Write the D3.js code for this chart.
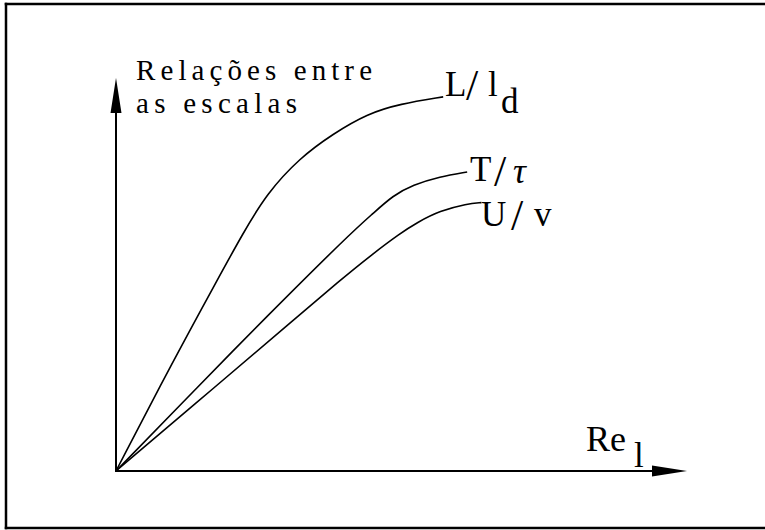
<!DOCTYPE html>
<html>
<head>
<meta charset="utf-8">
<script src="https://cdn.jsdelivr.net/npm/d3@7"></script>
<style>
  html, body { margin: 0; padding: 0; background: #fff; overflow: hidden; }
  svg { display: block; }
</style>
</head>
<body>
<script>
// Qualitative curves: ratios between scales as Re_l grows (arbitrary units 0-100)
const curveNames = ["L/ld", "T/tau", "U/v"];

const lengthX = [0, 10.0, 17.7, 22.2, 26.4, 32.2, 38.0, 44.0, 49.7, 57.3];
const lengthY = [0, 28.0, 48.5, 60.4, 70.6, 79.7, 85.8, 90.9, 93.4, 95.2];

const timeX = [0, 15.0, 25.7, 41.0, 45.0, 48.5, 52.0, 56.7, 61.5];
const timeY = [0, 22.4, 38.3, 60.4, 65.5, 70.1, 72.8, 74.9, 76.1];

const velX = [0, 18.0, 31.0, 39.2, 45.0, 49.7, 52.7, 56.7, 61.5, 64.0];
const velY = [0, 22.2, 38.3, 48.5, 55.3, 60.4, 63.2, 66.2, 68.0, 68.3];

const yTitle = ["Relações entre", "as escalas"];

const FONT = "'Liberation Serif', 'Times New Roman', 'DejaVu Serif', serif";
const W = 765, H = 530;
const svg = d3.select("body").append("svg").attr("width", W).attr("height", H);

// frame: top, left and bottom edges (the right edge runs past the page)
const frame = [[6, 4, W, 4], [6, 4, 6, 528], [6, 528, W, 528]];
svg.selectAll("line.frame").data(frame).join("line")
  .attr("class", "frame")
  .attr("x1", d => d[0]).attr("y1", d => d[1])
  .attr("x2", d => d[2]).attr("y2", d => d[3])
  .attr("stroke", "#000").attr("stroke-width", 2.5).attr("stroke-linecap", "square");

const x = d3.scaleLinear().domain([0, 100]).range([116, 687]);
const y = d3.scaleLinear().domain([0, 100]).range([471, 78]);

// axes with filled arrowheads
const head = 35, half = 5.5;
svg.append("line")
  .attr("x1", x(0)).attr("y1", y(0)).attr("x2", x(100) - head + 2).attr("y2", y(0))
  .attr("stroke", "#000").attr("stroke-width", 2);
svg.append("path")
  .attr("d", `M${x(100)},${y(0)} L${x(100) - head},${y(0) - half} L${x(100) - head},${y(0) + half} Z`)
  .attr("fill", "#000");
svg.append("line")
  .attr("x1", x(0)).attr("y1", y(0) + 1).attr("x2", x(0)).attr("y2", y(100) + head - 2)
  .attr("stroke", "#000").attr("stroke-width", 2);
svg.append("path")
  .attr("d", `M${x(0)},${y(100)} L${x(0) - half},${y(100) + head} L${x(0) + half},${y(100) + head} Z`)
  .attr("fill", "#000");

// curves (smoothed through the sampled points)
const line = d3.line()
  .x(d => x(d[0])).y(d => y(d[1]))
  .curve(d3.curveBasis);

const series = [
  d3.zip(lengthX, lengthY),
  d3.zip(timeX, timeY),
  d3.zip(velX, velY)
];
svg.selectAll("path.curve").data(series).join("path")
  .attr("class", "curve")
  .attr("d", line)
  .attr("fill", "none").attr("stroke", "#000").attr("stroke-width", 1.6);

// y-axis title
svg.append("text").attr("x", 136).attr("y", 80)
  .attr("font-family", FONT)
  .attr("font-size", 29).attr("textLength", 236).attr("lengthAdjust", "spacing")
  .text(yTitle[0]);
svg.append("text").attr("x", 136).attr("y", 113)
  .attr("font-family", FONT)
  .attr("font-size", 29).attr("textLength", 161).attr("lengthAdjust", "spacing")
  .text(yTitle[1]);

// curve labels, glyph by glyph
function glyphs(parts) {
  const t = svg.append("text").attr("font-family", FONT);
  parts.forEach(p => {
    t.append("tspan").attr("x", p[0]).attr("y", p[1])
      .attr("font-size", p[3] || 35)
      .attr("font-style", p[4] || "normal")
      .text(p[2]);
  });
}
glyphs([[445, 96, "L"], [466, 100, "/", 44], [488, 96, "l"], [501, 113, "d"]]);
glyphs([[470, 181, "T"], [494, 186, "/", 44], [513, 183, "τ", 36, "italic"]]);
glyphs([[481, 226, "U"], [511, 230, "/", 44], [534, 226, "v"]]);
glyphs([[586, 451, "Re", 36], [634, 467, "l"]]);
</script>
</body>
</html>
